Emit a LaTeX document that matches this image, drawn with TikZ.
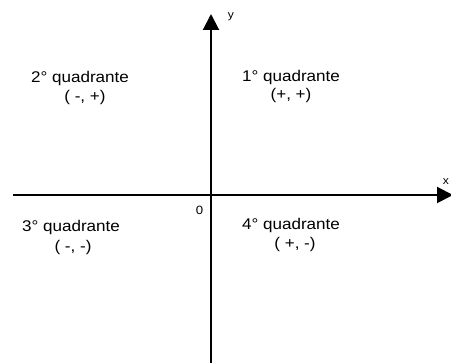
\documentclass[tikz,border=0pt]{standalone}
\usepackage{fontspec}
\setmainfont{Liberation Sans}[FakeStretch=1.1]
\usetikzlibrary{arrows.meta}
\tikzset{
  axisline/.style={line width=2pt, -{Triangle[width=16pt,length=16pt]}},
  qlabel/.style={anchor=base, inner sep=0pt, font=\fontsize{15.5pt}{17pt}\selectfont},
  axlabel/.style={anchor=base, inner sep=0pt, font=\fontsize{11pt}{12pt}\selectfont},
}
\begin{document}
\begin{tikzpicture}[x=1pt,y=-1pt]
\useasboundingbox (0,0) rectangle (451,363);
\clip (0,0) rectangle (451,363);
\coordinate (xs) at (13,195);
\coordinate (xe) at (453,195);
\coordinate (ys) at (211,365);
\coordinate (ye) at (211,14);
\draw[axisline] (xs) -- (xe);
\draw[axisline] (ys) -- (ye);
\node[axlabel] (ylab) at (231,19) {y};
\node[axlabel] (xlab) at (446,185) {x};
\node[axlabel, font=\fontsize{12pt}{13pt}\selectfont] (orig) at (199.5,215) {0};
\node[qlabel] (q2) at (80,83) {2° quadrante};
\node[qlabel] (s2) at (85,102) {( -, +)};
\node[qlabel] (q1) at (291,82) {1° quadrante};
\node[qlabel] (s1) at (291,100) {(+, +)};
\node[qlabel] (q3) at (71,232) {3° quadrante};
\node[qlabel] (s3) at (73,252) {( -, -)};
\node[qlabel] (q4) at (291,230) {4° quadrante};
\node[qlabel] (s4) at (295,249) {( +, -)};
\end{tikzpicture}
\end{document}
